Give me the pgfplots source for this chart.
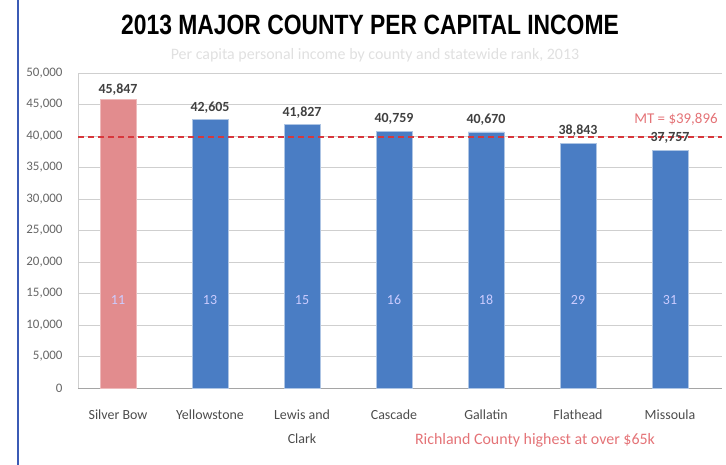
\documentclass[border=0pt]{standalone}
\usepackage{fontspec}
\setmainfont{Carlito}
\newfontfamily\titlefont[FakeStretch=0.82]{Liberation Sans}
\usepackage{pgfplots}
\pgfplotsset{compat=1.18}

\definecolor{barblue}{HTML}{4A7DC4}
\definecolor{barpink}{HTML}{E28C8E}
\definecolor{mtred}{HTML}{D8373C}
\definecolor{gridgray}{HTML}{CFCFCF}
\definecolor{ticktext}{HTML}{666666}
\definecolor{framblue}{HTML}{3B5BB5}

\begin{document}
\begin{tikzpicture}
\path[use as bounding box] (0,0) rectangle (726bp,465bp);
\draw[framblue, line width=1.2bp] (18bp,0) -- (18bp,465bp);
\node[font=\titlefont\bfseries\fontsize{28}{32}\selectfont] at (370bp,440bp)
  {2013 MAJOR COUNTY PER CAPITAL INCOME};
\node[font=\fontsize{16}{18}\selectfont, text=black!12] at (375bp,410bp)
  {Per capita personal income by county and statewide rank, 2013};
\node[font=\fontsize{16}{18}\selectfont, text=mtred!70] at (535bp,25bp)
  {Richland County highest at over \$65k};

\begin{axis}[
    at={(78bp,77bp)}, anchor=south west,
    scale only axis,
    width=644bp, height=315bp,
    xmin=-0.435, xmax=6.565,
    ymin=0, ymax=50000,
    ytick={0,5000,...,50000},
    scaled y ticks=false,
    yticklabel style={font=\fontsize{13}{15}\selectfont, text=ticktext, xshift=-12bp,
        /pgf/number format/fixed, /pgf/number format/1000 sep={,},
        /pgf/number format/assume math mode=true},
    xtick={0,...,6},
    xticklabels={Silver Bow, Yellowstone, Lewis and\\Clark, Cascade, Gallatin, Flathead, Missoula},
    xticklabel style={font=\fontsize{14}{24}\selectfont, text=black!70, align=center,
        anchor=north, yshift=-18bp},
    axis x line*=bottom, axis y line*=left,
    x axis line style={gridgray!80!black, -},
    y axis line style={gridgray, -},
    major tick length=0pt,
    ymajorgrids, grid style={gridgray},
    clip=false,
]
% Silver Bow (highlighted)
\addplot[ybar, bar width=36bp, bar shift=0pt, fill=barpink, draw=barpink!60,
    point meta=rawy,
    nodes near coords={\pgfmathprintnumber[fixed,precision=0,1000 sep={,},assume math mode=true]{\pgfplotspointmeta}},
    nodes near coords style={font=\bfseries\fontsize{14}{15}\selectfont, text=black!75}]
    coordinates {(0,45847)};
% other major counties
\addplot[ybar, bar width=36bp, bar shift=0pt, fill=barblue, draw=barblue!45,
    point meta=rawy,
    nodes near coords={\pgfmathprintnumber[fixed,precision=0,1000 sep={,},assume math mode=true]{\pgfplotspointmeta}},
    nodes near coords style={font=\bfseries\fontsize{14}{15}\selectfont, text=black!75, yshift=3bp}]
    coordinates {(1,42605) (2,41827) (3,40759) (4,40670) (5,38843) (6,37757)};
% statewide rank inside bars
\addplot[draw=none, point meta=explicit symbolic, nodes near coords,
    nodes near coords style={anchor=center, font=\fontsize{14}{15}\selectfont, text=white!80!blue}]
    coordinates {(0,14000)[11] (1,14000)[13] (2,14000)[15] (3,14000)[16]
                 (4,14000)[18] (5,14000)[29] (6,14000)[31]};
% Montana average
\addplot[mtred, line width=2bp, dash pattern=on 6bp off 4bp]
    coordinates {(-0.435,39896) (6.565,39896)}
    node[pos=1, anchor=south east, yshift=7bp, font=\fontsize{15}{16}\selectfont, text=mtred!70] {MT = \$39,896};
\end{axis}
\end{tikzpicture}
\end{document}
